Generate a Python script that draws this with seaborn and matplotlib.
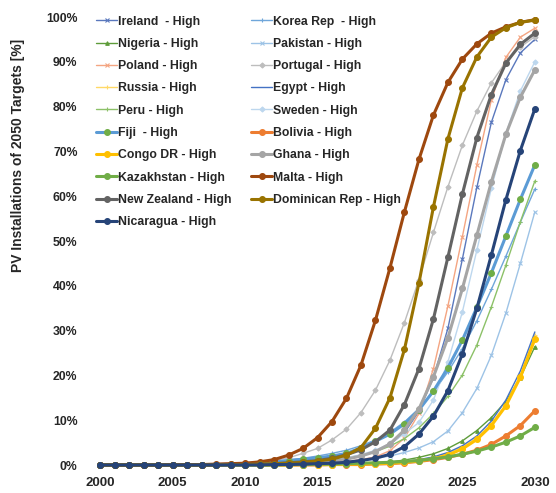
import matplotlib
matplotlib.use("Agg")
import matplotlib.pyplot as plt
import seaborn as sns
import pandas as pd

years = list(range(2000, 2031))

# Share of the 2050 PV target installed each year, in percent (high scenario)
ireland = [0, 0, 0, 0, 0, 0, 0, 0, 0, 0, 0.1, 0.1, 0.2, 0.3, 0.4, 0.6, 0.9, 1.3, 2.0, 3.0,
           4.6, 7.2, 12.0, 19.5, 30.5, 46.0, 62.0, 76.5, 86.0, 92.0, 95.0]
korea = [0, 0, 0, 0, 0, 0, 0, 0, 0.1, 0.2, 0.3, 0.5, 0.8, 1.1, 1.5, 2.0, 2.6, 3.3, 4.3, 5.6,
         7.3, 9.6, 12.6, 16.3, 20.8, 26.0, 32.2, 39.2, 46.6, 54.2, 61.6]
nigeria = [0, 0, 0, 0, 0, 0, 0, 0, 0, 0, 0, 0, 0, 0, 0.1, 0.1, 0.1, 0.2, 0.3, 0.5,
           0.7, 1.1, 1.7, 2.5, 3.7, 5.4, 7.7, 10.6, 14.2, 19.5, 26.4]
pakistan = [0, 0, 0, 0, 0, 0, 0, 0, 0, 0, 0.1, 0.1, 0.2, 0.2, 0.3, 0.4, 0.6, 0.8, 1.1, 1.5,
            2.0, 2.8, 3.8, 5.2, 7.6, 11.7, 17.1, 24.5, 33.9, 45.0, 56.5]
poland = [0, 0, 0, 0, 0, 0, 0, 0, 0, 0, 0, 0.1, 0.1, 0.2, 0.2, 0.3, 0.5, 0.8, 1.2, 1.8,
          3.2, 6.0, 11.5, 21.5, 35.5, 51.0, 67.0, 81.5, 91.0, 95.5, 97.5]
portugal = [0, 0, 0, 0, 0, 0, 0.1, 0.1, 0.2, 0.3, 0.4, 0.6, 1.0, 1.6, 2.6, 3.7, 5.6, 8.0, 11.7, 16.7,
            23.4, 31.8, 41.4, 51.9, 62.1, 71.4, 79.0, 85.3, 90.0, 93.3, 95.6]
russia = [0, 0, 0, 0, 0, 0, 0, 0, 0, 0, 0, 0, 0, 0, 0.1, 0.1, 0.1, 0.2, 0.2, 0.3,
          0.4, 0.7, 1.1, 1.7, 2.6, 4.0, 6.1, 9.2, 13.6, 20.0, 29.0]
egypt = [0, 0, 0, 0, 0, 0, 0, 0, 0, 0, 0, 0, 0, 0, 0.1, 0.1, 0.2, 0.2, 0.3, 0.4,
         0.5, 0.8, 1.2, 1.8, 2.8, 4.3, 6.5, 9.8, 14.5, 21.0, 29.7]
peru = [0, 0, 0, 0, 0, 0, 0, 0, 0, 0.1, 0.2, 0.3, 0.4, 0.5, 0.7, 0.9, 1.2, 1.6, 2.2, 3.0,
        4.2, 5.9, 8.3, 11.5, 15.3, 20.1, 26.8, 35.3, 44.6, 54.3, 63.4]
sweden = [0, 0, 0, 0, 0, 0, 0, 0, 0, 0, 0.1, 0.2, 0.3, 0.4, 0.6, 0.8, 1.1, 1.6, 2.3, 3.3,
          4.8, 7.0, 9.5, 14.5, 23.0, 34.2, 48.0, 61.8, 74.0, 83.5, 90.0]
fiji = [0, 0, 0, 0, 0, 0, 0, 0, 0.1, 0.2, 0.3, 0.5, 0.7, 1.0, 1.3, 1.6, 2.0, 2.6, 3.8, 5.3,
        6.9, 9.2, 12.3, 16.5, 21.7, 27.9, 35.2, 42.9, 51.1, 59.3, 67.0]
bolivia = [0, 0, 0, 0, 0, 0, 0, 0, 0, 0, 0, 0, 0, 0, 0, 0, 0.1, 0.1, 0.1, 0.2,
           0.3, 0.5, 0.8, 1.2, 1.7, 2.4, 3.3, 4.6, 6.5, 8.8, 12.1]
congo = [0, 0, 0, 0, 0, 0, 0, 0, 0, 0, 0, 0, 0, 0, 0.1, 0.1, 0.1, 0.2, 0.2, 0.3,
         0.4, 0.6, 0.9, 1.4, 2.2, 3.6, 5.7, 8.8, 13.2, 19.6, 28.1]
ghana = [0, 0, 0, 0, 0, 0, 0, 0, 0, 0, 0.1, 0.1, 0.2, 0.3, 0.4, 0.6, 0.9, 1.3, 2.0, 3.0,
         4.7, 7.8, 12.5, 19.7, 28.4, 39.4, 51.3, 63.2, 73.8, 82.1, 88.2]
kazakhstan = [0, 0, 0, 0, 0, 0, 0, 0, 0, 0, 0, 0, 0, 0.1, 0.1, 0.2, 0.2, 0.3, 0.4, 0.5,
              0.6, 0.8, 1.0, 1.4, 1.8, 2.4, 3.1, 4.0, 5.1, 6.5, 8.4]
malta = [0, 0, 0, 0, 0, 0.1, 0.1, 0.1, 0.2, 0.3, 0.4, 0.7, 1.2, 2.2, 3.7, 6.1, 9.7, 14.9, 22.3, 32.3,
         44.0, 56.5, 68.2, 78.1, 85.4, 90.6, 94.0, 96.4, 97.8, 98.8, 99.4]
new_zealand = [0, 0, 0, 0, 0, 0, 0, 0, 0, 0.1, 0.1, 0.2, 0.3, 0.5, 0.7, 1.0, 1.5, 2.3, 3.4, 5.2,
               7.8, 13.5, 21.5, 32.6, 46.4, 60.5, 73.1, 82.7, 89.7, 93.9, 96.4]
dominican = [0, 0, 0, 0, 0, 0, 0, 0, 0, 0.1, 0.1, 0.2, 0.3, 0.4, 0.6, 0.9, 1.3, 2.2, 3.9, 8.2,
             15.0, 25.8, 40.6, 57.6, 72.8, 84.2, 91.1, 95.5, 97.6, 98.8, 99.3]
nicaragua = [0, 0, 0, 0, 0, 0, 0, 0, 0, 0, 0, 0, 0.1, 0.1, 0.2, 0.3, 0.4, 0.6, 1.0, 1.5,
             2.4, 4.1, 6.9, 10.9, 16.6, 24.8, 35.0, 46.9, 59.2, 70.2, 79.5]

labels = ["Ireland  - High", "Korea Rep  - High", "Nigeria - High", "Pakistan - High",
          "Poland - High", "Portugal - High", "Russia - High", "Egypt - High",
          "Peru - High", "Sweden - High", "Fiji  - High", "Bolivia - High",
          "Congo DR - High", "Ghana - High", "Kazakhstan - High", "Malta - High",
          "New Zealand - High", "Dominican Rep - High", "Nicaragua - High"]
series = [ireland, korea, nigeria, pakistan, poland, portugal, russia, egypt, peru, sweden,
          fiji, bolivia, congo, ghana, kazakhstan, malta, new_zealand, dominican, nicaragua]

y_ticks = [0, 10, 20, 30, 40, 50, 60, 70, 80, 90, 100]
y_tick_labels = ["0%", "10%", "20%", "30%", "40%", "50%", "60%", "70%", "80%", "90%", "100%"]
x_ticks = [2000, 2005, 2010, 2015, 2020, 2025, 2030]

# line colour, marker, marker face colour, thick line?
styles = {
    "Ireland  - High": ("#5a78bd", "x", "#5a78bd", False),
    "Korea Rep  - High": ("#6fa6da", "+", "#6fa6da", False),
    "Nigeria - High": ("#5e9c3a", "^", "#5e9c3a", False),
    "Pakistan - High": ("#9dc3e6", "x", "#9dc3e6", False),
    "Poland - High": ("#f4a582", "x", "#f4a582", False),
    "Portugal - High": ("#bdbdbd", "D", "#bdbdbd", False),
    "Russia - High": ("#ffd966", "+", "#ffd966", False),
    "Egypt - High": ("#4472c4", "", "#4472c4", False),
    "Peru - High": ("#8cc168", "+", "#8cc168", False),
    "Sweden - High": ("#bdd7ee", "D", "#bdd7ee", False),
    "Fiji  - High": ("#5b9bd5", "o", "#70ad47", True),
    "Bolivia - High": ("#ed7d31", "o", "#ed7d31", True),
    "Congo DR - High": ("#ffc000", "o", "#ffc000", True),
    "Ghana - High": ("#a5a5a5", "o", "#a5a5a5", True),
    "Kazakhstan - High": ("#70ad47", "o", "#70ad47", True),
    "Malta - High": ("#9e480e", "o", "#9e480e", True),
    "New Zealand - High": ("#636363", "o", "#636363", True),
    "Dominican Rep - High": ("#997300", "o", "#997300", True),
    "Nicaragua - High": ("#264478", "o", "#264478", True),
}

df = pd.DataFrame({"Year": years * len(labels),
                   "Share": [v for s in series for v in s],
                   "Country": [lab for lab in labels for _ in years]})

sns.set_theme(style="white")
plt.rcParams["font.family"] = ["Liberation Sans", "DejaVu Sans"]

fig = plt.figure(figsize=(5.56, 4.93), dpi=100)
ax = fig.add_axes([90 / 556, 28 / 493, 455 / 556, 448 / 493])

for lab in labels:
    color, marker, mface, thick = styles[lab]
    sub = df[df["Country"] == lab]
    sns.lineplot(data=sub, x="Year", y="Share", ax=ax, color=color,
                 linewidth=2.2 if thick else 1.0,
                 marker=marker if marker else None,
                 markersize=(4.2 if thick else 2.6),
                 markerfacecolor=mface, markeredgecolor=mface,
                 markeredgewidth=0.8, label=lab, clip_on=False)

ax.set_xlim(1999.3, 2030.7)
ax.set_ylim(0, 100)
ax.set_xticks(x_ticks)
ax.set_xticklabels([str(t) for t in x_ticks], fontsize=9.5, fontweight="bold")
ax.set_yticks(y_ticks)
ax.set_yticklabels(y_tick_labels, fontsize=8.8, fontweight="bold")
ax.tick_params(axis="y", length=0, pad=9)
ax.tick_params(axis="x", length=0, pad=9)
ax.set_xlabel("")
ax.set_ylabel("PV Installations of 2050 Targets [%]", fontsize=10, fontweight="bold")
ax.yaxis.set_label_coords(-0.143, 0.69)
for sp in ax.spines.values():
    sp.set_visible(False)
ax.grid(False)

handles, hlabels = ax.get_legend_handles_labels()
order = list(range(0, len(labels), 2)) + list(range(1, len(labels), 2))
leg = ax.legend([handles[i] for i in order], [hlabels[i] for i in order],
                loc="upper left", bbox_to_anchor=(0.014, 1.003), ncol=2, frameon=False,
                prop={"size": 8.8, "weight": "bold"}, handlelength=1.7, handletextpad=0.1,
                labelspacing=0.84, columnspacing=1.6, borderaxespad=0, borderpad=0)

fig.savefig("out.png", dpi=100)
